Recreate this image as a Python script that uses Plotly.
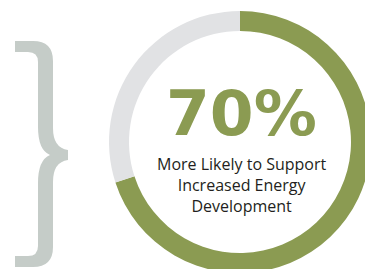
import plotly.graph_objects as go

# ---- data ----
labels = ["More likely to support", "Other"]
values = [70, 30]
colors = ["#8B9B52", "#E1E2E4"]
headline = "70%"
caption_lines = ["More Likely to Support", "Increased Energy", "Development"]

# ---- canvas (figure is slightly larger than the window so the ring can bleed off) ----
W, H = 380, 290
cx, cy, r_out, r_in = 240, 142, 131, 111


def px(x):
    return x / W


def py(y):
    return 1 - y / H


fig = go.Figure(
    go.Pie(
        labels=labels,
        values=values,
        marker=dict(colors=colors, line=dict(width=0)),
        hole=r_in / r_out,
        sort=False,
        direction="clockwise",
        rotation=0,
        textinfo="none",
        hoverinfo="skip",
        showlegend=False,
        domain=dict(x=[px(cx - r_out), px(cx + r_out)], y=[py(cy + r_out), py(cy - r_out)]),
    )
)

# decorative brace drawn as a filled path (pixel coordinates converted to paper)
brace_pts = [
    ("M", [(15, 41)]),
    ("L", [(33, 41)]),
    ("Q", [(53, 41), (53, 61)]),
    ("L", [(53, 128)]),
    ("Q", [(53, 148), (68, 150)]),
    ("L", [(68, 160)]),
    ("Q", [(53, 162), (53, 182)]),
    ("L", [(53, 247)]),
    ("Q", [(53, 267), (33, 267)]),
    ("L", [(15, 267)]),
    ("L", [(15, 256)]),
    ("L", [(28, 256)]),
    ("Q", [(38, 256), (38, 246)]),
    ("L", [(38, 183)]),
    ("Q", [(38, 160), (50, 155)]),
    ("Q", [(38, 150), (38, 127)]),
    ("L", [(38, 62)]),
    ("Q", [(38, 52), (28, 52)]),
    ("L", [(15, 52)]),
]
path = ""
for cmd, pts in brace_pts:
    path += cmd + " " + " ".join(f"{px(x):.5f},{py(y):.5f}" for x, y in pts) + " "
path += "Z"

fig.add_shape(type="path", path=path, xref="paper", yref="paper",
              fillcolor="#C5CCC8", line=dict(width=0), layer="above")

# headline
fig.add_annotation(text=f"<b>{headline}</b>", x=px(241), y=py(113.7), xref="paper", yref="paper",
                   xanchor="center", yanchor="middle", showarrow=False,
                   font=dict(family="DejaVu Sans", size=63, color=colors[0]))

# caption (one block of three lines)
fig.add_annotation(text="<br>".join(caption_lines), x=px(241.5), y=py(184.8),
                   xref="paper", yref="paper", xanchor="center", yanchor="middle",
                   align="center", showarrow=False,
                   font=dict(family="Open Sans", size=16, color="#231F20"))

fig.update_layout(
    width=W, height=H,
    margin=dict(l=0, r=0, t=0, b=0),
    paper_bgcolor="white", plot_bgcolor="white",
)

fig.write_html(
    "out.html",
    config={"displayModeBar": False, "staticPlot": True},
    post_script="document.body.style.margin='0';document.body.style.overflow='hidden';"
                "document.documentElement.style.overflow='hidden';",
)
